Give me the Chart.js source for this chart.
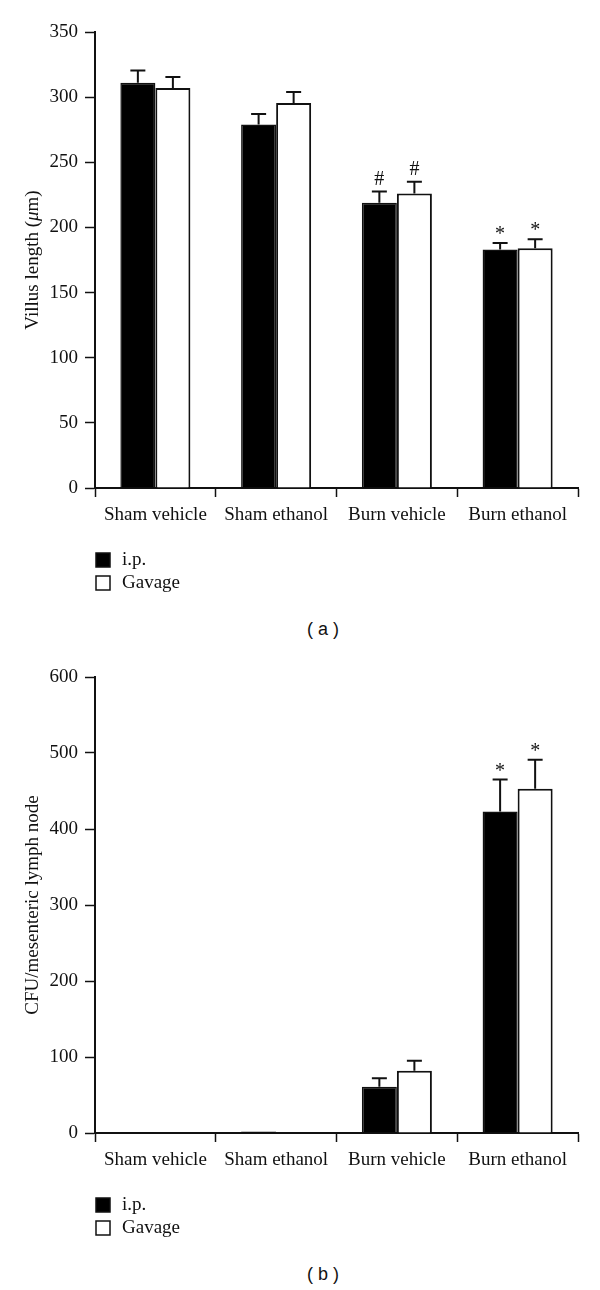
<!DOCTYPE html>
<html>
<head>
<meta charset="utf-8">
<script src="https://cdn.jsdelivr.net/npm/chart.js@4.4.1/dist/chart.umd.min.js"></script>
<style>
  html, body { margin: 0; padding: 0; background: #fff; }
  body { width: 600px; height: 1290px; position: relative; overflow: hidden; }
  .panel { position: absolute; left: 0; width: 600px; height: 600px; }
  .caption {
    position: absolute; left: 0; width: 646px; text-align: center;
    font-family: "Liberation Sans", Arial, sans-serif; font-size: 18px; color: #111;
  }
</style>
</head>
<body>
<div class="panel" style="top:0"><canvas id="villusChart"></canvas></div>
<div class="caption" style="top:619px">( a )</div>
<div class="panel" style="top:645px"><canvas id="cfuChart"></canvas></div>
<div class="caption" style="top:1264px">( b )</div>
<script>
// 数据
const categories = ['Sham vehicle', 'Sham ethanol', 'Burn vehicle', 'Burn ethanol'];
const seriesNames = ['i.p.', 'Gavage'];

const villusIp = [311, 279, 219, 183];
const villusIpErr = [9.5, 8, 8.5, 5];
const villusGavage = [307, 295.5, 226, 184];
const villusGavageErr = [8.5, 8.5, 9, 7];
const villusIpMarks = ['', '', '#', '*'];
const villusGavageMarks = ['', '', '#', '*'];
const villusMax = 350;
const villusStep = 50;

const cfuIp = [1, 2, 61, 423];
const cfuIpErr = [0, 0, 11, 42];
const cfuGavage = [0.5, 0.5, 82, 453];
const cfuGavageErr = [0, 0, 13, 38];
const cfuIpMarks = ['', '', '', '*'];
const cfuGavageMarks = ['', '', '', '*'];
const cfuMax = 600;
const cfuStep = 100;

const INK = '#111';
const SERIF = '"Liberation Serif", "Times New Roman", serif';

Chart.defaults.font.family = SERIF;
Chart.defaults.font.size = 19;
Chart.defaults.color = INK;
Chart.defaults.animation = false;

// 误差线 + 显著性标记 + 图例 + 纵轴标题
const decorPlugin = {
    id: 'decor',
    afterDatasetsDraw(chart, args, opts) {
        const ctx = chart.ctx;
        const y = chart.scales.y;
        ctx.save();
        ctx.strokeStyle = INK;
        ctx.lineWidth = 2;
        chart.data.datasets.forEach((ds, i) => {
            const meta = chart.getDatasetMeta(i);
            meta.data.forEach((bar, j) => {
                const err = ds.errors[j];
                if (!err) return;
                const y0 = y.getPixelForValue(ds.data[j]);
                const y1 = y.getPixelForValue(ds.data[j] + err);
                ctx.beginPath();
                ctx.moveTo(bar.x, y0);
                ctx.lineTo(bar.x, y1);
                ctx.moveTo(bar.x - 7.5, y1);
                ctx.lineTo(bar.x + 7.5, y1);
                ctx.stroke();
                const mark = ds.marks[j];
                if (mark) {
                    ctx.fillStyle = INK;
                    ctx.font = '20px ' + SERIF;
                    ctx.textAlign = 'center';
                    ctx.textBaseline = 'middle';
                    ctx.fillText(mark, bar.x, y1 - (mark === '*' ? 8 : 12));
                }
            });
        });
        ctx.restore();
    },
    afterDraw(chart, args, opts) {
        const ctx = chart.ctx;
        const area = chart.chartArea;
        ctx.save();
        // 图例
        ctx.font = '19px ' + SERIF;
        ctx.textBaseline = 'middle';
        ctx.textAlign = 'left';
        chart.data.datasets.forEach((ds, i) => {
            const cy = area.bottom + 72 + i * 23;
            ctx.fillStyle = ds.backgroundColor;
            ctx.fillRect(96, cy - 7, 14, 14);
            ctx.strokeStyle = INK;
            ctx.lineWidth = 1.5;
            ctx.strokeRect(96, cy - 7, 14, 14);
            ctx.fillStyle = INK;
            ctx.fillText(ds.label, 122, cy);
        });
        // 纵轴标题
        const cy = (area.top + area.bottom) / 2;
        ctx.translate(33, cy);
        ctx.rotate(-Math.PI / 2);
        const parts = opts.titleParts;
        const fonts = parts.map(p => (p.italic ? 'italic ' : '') + '19px ' + SERIF);
        let total = 0;
        const widths = parts.map((p, k) => {
            ctx.font = fonts[k];
            const w = ctx.measureText(p.text).width;
            total += w;
            return w;
        });
        let x = -total / 2;
        ctx.fillStyle = INK;
        parts.forEach((p, k) => {
            ctx.font = fonts[k];
            ctx.fillText(p.text, x, 0);
            x += widths[k];
        });
        ctx.restore();
    }
};

function makeChart(id, ip, ipErr, ipMarks, gav, gavErr, gavMarks, max, step, titleParts) {
    const ctx = document.getElementById(id).getContext('2d');
    return new Chart(ctx, {
        type: 'bar',
        data: {
            labels: categories,
            datasets: [{
                label: seriesNames[0],
                data: ip,
                errors: ipErr,
                marks: ipMarks,
                backgroundColor: '#000',
                borderColor: INK,
                borderWidth: 1.5,
                barPercentage: 1,
                categoryPercentage: 0.58
            }, {
                label: seriesNames[1],
                data: gav,
                errors: gavErr,
                marks: gavMarks,
                backgroundColor: '#fff',
                borderColor: INK,
                borderWidth: 2,
                barPercentage: 1,
                categoryPercentage: 0.58
            }]
        },
        options: {
            responsive: true,
            maintainAspectRatio: false,
            layout: { padding: { top: 32, right: 22, bottom: 70, left: 0 } },
            plugins: {
                legend: { display: false },
                tooltip: { enabled: false },
                decor: { titleParts: titleParts }
            },
            scales: {
                x: {
                    offset: true,
                    grid: {
                        offset: true,
                        drawOnChartArea: false,
                        tickLength: 9,
                        tickWidth: 1.5,
                        tickColor: INK
                    },
                    border: { color: INK, width: 2 },
                    ticks: { padding: 7, maxRotation: 0, autoSkip: false, color: INK },
                    afterFit(scale) { scale.height = 42; }
                },
                y: {
                    min: 0,
                    max: max,
                    grid: {
                        drawOnChartArea: false,
                        tickLength: 10,
                        tickWidth: 1.5,
                        tickColor: INK
                    },
                    border: { color: INK, width: 2 },
                    ticks: { stepSize: step, padding: 7, color: INK },
                    afterFit(scale) { scale.width = 95; }
                }
            }
        },
        plugins: [decorPlugin]
    });
}

makeChart('villusChart', villusIp, villusIpErr, villusIpMarks,
    villusGavage, villusGavageErr, villusGavageMarks, villusMax, villusStep,
    [{ text: 'Villus length (' }, { text: 'μ', italic: true }, { text: 'm)' }]);

makeChart('cfuChart', cfuIp, cfuIpErr, cfuIpMarks,
    cfuGavage, cfuGavageErr, cfuGavageMarks, cfuMax, cfuStep,
    [{ text: 'CFU/mesenteric lymph node' }]);
</script>
</body>
</html>
